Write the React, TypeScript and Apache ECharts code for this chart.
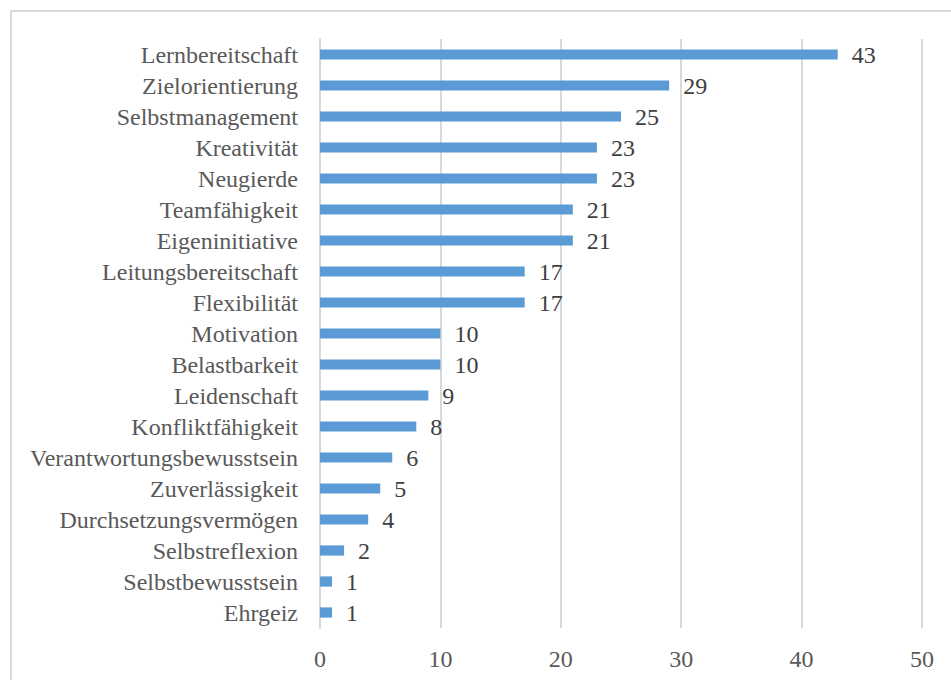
import React, { useEffect, useRef } from "react";
import * as echarts from "echarts";

const categories = [
  "Lernbereitschaft",
  "Zielorientierung",
  "Selbstmanagement",
  "Kreativität",
  "Neugierde",
  "Teamfähigkeit",
  "Eigeninitiative",
  "Leitungsbereitschaft",
  "Flexibilität",
  "Motivation",
  "Belastbarkeit",
  "Leidenschaft",
  "Konfliktfähigkeit",
  "Verantwortungsbewusstsein",
  "Zuverlässigkeit",
  "Durchsetzungsvermögen",
  "Selbstreflexion",
  "Selbstbewusstsein",
  "Ehrgeiz",
];
const values = [43, 29, 25, 23, 23, 21, 21, 17, 17, 10, 10, 9, 8, 6, 5, 4, 2, 1, 1];

const FONT = "Liberation Serif";

export default function App() {
  const ref = useRef<HTMLDivElement>(null);
  useEffect(() => {
    document.body.style.margin = "0";
    const chart = echarts.init(ref.current!, undefined, { renderer: "svg" });
    chart.setOption({
      animation: false,
      backgroundColor: "#ffffff",
      textStyle: { fontFamily: FONT },
      graphic: [
        {
          type: "rect",
          shape: { x: 11, y: 11, width: 980, height: 720 },
          style: { fill: "none", stroke: "#d9d9d9", lineWidth: 2 },
          silent: true,
        },
      ],
      grid: { left: 320, right: 29, top: 39, bottom: 52 },
      xAxis: {
        type: "value",
        min: 0,
        max: 50,
        interval: 10,
        axisLine: { show: false },
        axisTick: { show: false },
        splitLine: { show: true, lineStyle: { color: "#d9d9d9", width: 2 } },
        axisLabel: {
          color: "#595959",
          fontFamily: FONT,
          fontSize: 24,
          margin: 19,
        },
      },
      yAxis: {
        type: "category",
        inverse: true,
        data: categories,
        axisLine: { show: true, lineStyle: { color: "#d9d9d9", width: 2 } },
        axisTick: { show: false },
        axisLabel: {
          interval: 0,
          color: "#595959",
          fontFamily: FONT,
          fontSize: 24,
          margin: 22,
        },
      },
      series: [
        {
          type: "bar",
          data: values,
          barCategoryGap: "67%",
          itemStyle: { color: "#5b9bd5" },
          label: {
            show: true,
            position: "right",
            distance: 14,
            color: "#404040",
            fontFamily: FONT,
            fontSize: 24,
          },
        },
      ],
    });
    return () => chart.dispose();
  }, []);
  return <div ref={ref} style={{ width: 951, height: 680 }} />;
}
